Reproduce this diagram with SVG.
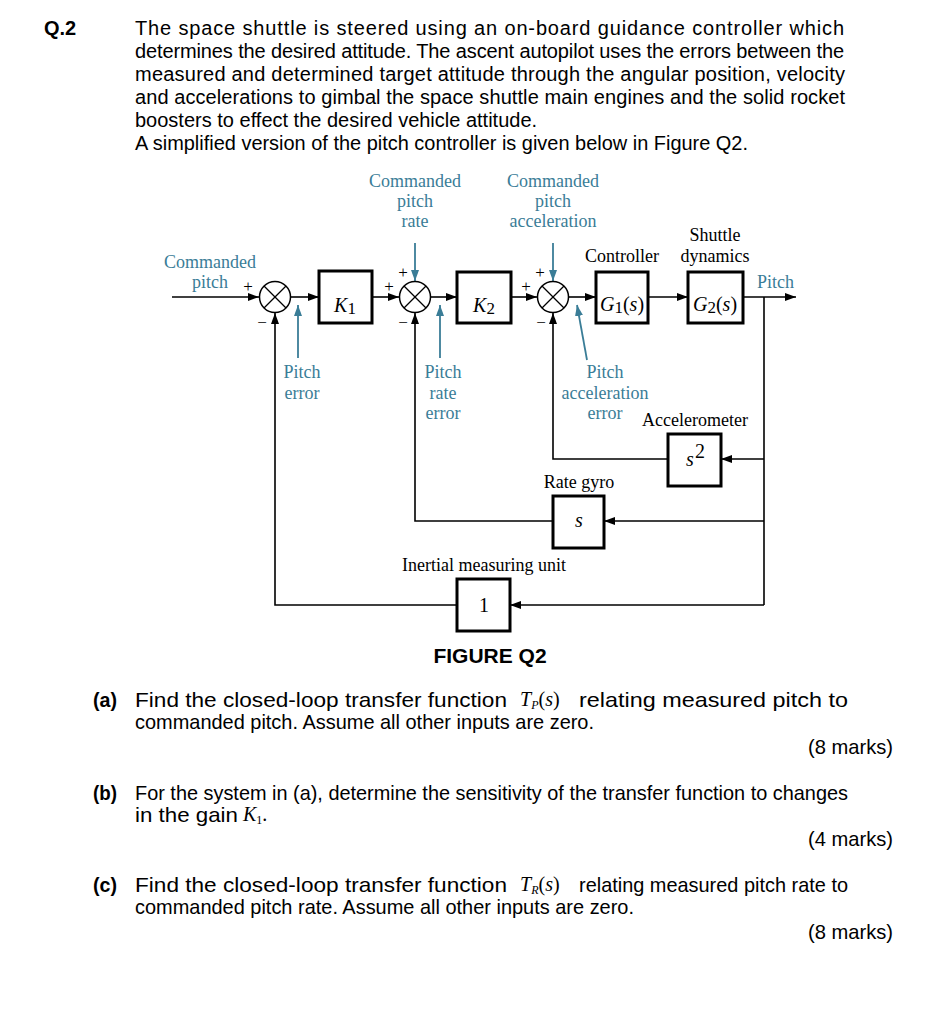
<svg xmlns="http://www.w3.org/2000/svg" width="937" height="1024" viewBox="0 0 937 1024">
<style>
.q{font-family:"Liberation Sans",Arial,sans-serif;font-size:20px;fill:#000}
.qb{font-family:"Liberation Sans",Arial,sans-serif;font-size:20px;font-weight:bold;fill:#000}
.p{font-family:"Liberation Sans",Arial,sans-serif;font-size:21px;fill:#000}
.pb{font-family:"Liberation Sans",Arial,sans-serif;font-size:21px;font-weight:bold;fill:#000}
.m{font-family:"Liberation Serif","Times New Roman",serif;font-size:20px;fill:#000}
.lb{font-family:"Liberation Serif","Times New Roman",serif;font-size:18px;fill:#000}
.lt{font-family:"Liberation Serif","Times New Roman",serif;font-size:18px;fill:#3a7d97}
.bx{font-family:"Liberation Serif","Times New Roman",serif;font-size:20px;fill:#000}
.sg{font-family:"Liberation Serif","Times New Roman",serif;font-size:17px;fill:#000}
.box{fill:#fff;stroke:#000;stroke-width:3}
.sum{fill:#fff;stroke:#000;stroke-width:1.5}
.x{stroke:#000;stroke-width:1.3}
.w{fill:none;stroke:#000;stroke-width:1.6}
.wt{fill:none;stroke:#3a7d97;stroke-width:1.8}
</style>
<defs>
<marker id="ab" markerUnits="userSpaceOnUse" markerWidth="11" markerHeight="8" refX="11" refY="4" orient="auto"><path d="M0,0 L11,4 L0,8 z" fill="#000"/></marker>
<marker id="at" markerUnits="userSpaceOnUse" markerWidth="11" markerHeight="8" refX="11" refY="4" orient="auto"><path d="M0,0 L11,4 L0,8 z" fill="#3a7d97"/></marker>
</defs>
<rect width="937" height="1024" fill="#fff"/>

<g id="question-text">
<text class="qb" x="44" y="35">Q.2</text>
<text class="q" x="135" y="35" textLength="709" lengthAdjust="spacing">The space shuttle is steered using an on-board guidance controller which</text>
<text class="q" x="135" y="58" textLength="709" lengthAdjust="spacing">determines the desired attitude. The ascent autopilot uses the errors between the</text>
<text class="q" x="135" y="81" textLength="710" lengthAdjust="spacing">measured and determined target attitude through the angular position, velocity</text>
<text class="q" x="135" y="104" textLength="710" lengthAdjust="spacing">and accelerations to gimbal the space shuttle main engines and the solid rocket</text>
<text class="q" x="135" y="127">boosters to effect the desired vehicle attitude.</text>
<text class="q" x="135" y="150" textLength="613" lengthAdjust="spacingAndGlyphs">A simplified version of the pitch controller is given below in Figure Q2.</text>
</g>

<g id="connectors">
<line class="w" x1="172" y1="297" x2="259" y2="297" marker-end="url(#ab)"/>
<line class="w" x1="291" y1="297" x2="319" y2="297" marker-end="url(#ab)"/>
<line class="w" x1="372" y1="297" x2="399" y2="297" marker-end="url(#ab)"/>
<line class="w" x1="431" y1="297" x2="457" y2="297" marker-end="url(#ab)"/>
<line class="w" x1="511" y1="297" x2="537" y2="297" marker-end="url(#ab)"/>
<line class="w" x1="569" y1="297" x2="596" y2="297" marker-end="url(#ab)"/>
<line class="w" x1="648" y1="297" x2="688" y2="297" marker-end="url(#ab)"/>
<line class="w" x1="743" y1="297" x2="796" y2="297" marker-end="url(#ab)"/>
<line class="w" x1="764" y1="297" x2="764" y2="605"/>
<line class="w" x1="764" y1="459" x2="721" y2="459" marker-end="url(#ab)"/>
<line class="w" x1="764" y1="521" x2="604" y2="521" marker-end="url(#ab)"/>
<line class="w" x1="764" y1="605" x2="510" y2="605" marker-end="url(#ab)"/>
<polyline class="w" points="668,459 553,459 553,313" marker-end="url(#ab)"/>
<polyline class="w" points="553,521 415,521 415,313" marker-end="url(#ab)"/>
<polyline class="w" points="457,605 275,605 275,313" marker-end="url(#ab)"/>
<line class="wt" x1="415" y1="243" x2="415" y2="281" marker-end="url(#at)"/>
<line class="wt" x1="553" y1="243" x2="553" y2="281" marker-end="url(#at)"/>
<line class="wt" x1="298" y1="358" x2="298" y2="305" marker-end="url(#at)"/>
<line class="wt" x1="440" y1="358" x2="440" y2="305" marker-end="url(#at)"/>
<line class="wt" x1="587" y1="360" x2="577" y2="305" marker-end="url(#at)"/>
</g>

<g id="sum1">
<circle class="sum" cx="275" cy="297" r="15.5"/>
<line class="x" x1="264" y1="286" x2="286" y2="308"/><line class="x" x1="286" y1="286" x2="264" y2="308"/>
<text class="sg" x="248" y="292" text-anchor="middle">+</text>
<text class="sg" x="262" y="328" text-anchor="middle">−</text>
</g>
<g id="sum2">
<circle class="sum" cx="415" cy="297" r="15.5"/>
<line class="x" x1="404" y1="286" x2="426" y2="308"/><line class="x" x1="426" y1="286" x2="404" y2="308"/>
<text class="sg" x="389" y="292" text-anchor="middle">+</text>
<text class="sg" x="403" y="278" text-anchor="middle">+</text>
<text class="sg" x="403" y="328" text-anchor="middle">−</text>
</g>
<g id="sum3">
<circle class="sum" cx="553" cy="297" r="15.5"/>
<line class="x" x1="542" y1="286" x2="564" y2="308"/><line class="x" x1="564" y1="286" x2="542" y2="308"/>
<text class="sg" x="526" y="292" text-anchor="middle">+</text>
<text class="sg" x="540" y="278" text-anchor="middle">+</text>
<text class="sg" x="541" y="328" text-anchor="middle">−</text>
</g>

<g id="K1">
<rect class="box" x="319" y="271" width="53" height="52"/>
<text class="bx" x="345" y="312" text-anchor="middle"><tspan font-style="italic">K</tspan><tspan font-size="17" dy="2">1</tspan></text>
</g>
<g id="K2">
<rect class="box" x="457" y="272" width="54" height="51"/>
<text class="bx" x="484" y="312" text-anchor="middle"><tspan font-style="italic">K</tspan><tspan font-size="17" dy="2">2</tspan></text>
</g>
<g id="G1">
<rect class="box" x="596" y="272" width="52" height="51"/>
<text class="bx" x="622" y="311" text-anchor="middle"><tspan font-style="italic">G</tspan><tspan font-size="17" dy="2">1</tspan><tspan dy="-2">(</tspan><tspan font-style="italic">s</tspan>)</text>
<text class="lb" x="622" y="262" text-anchor="middle">Controller</text>
</g>
<g id="G2">
<rect class="box" x="688" y="272" width="55" height="51"/>
<text class="bx" x="715" y="311" text-anchor="middle"><tspan font-style="italic">G</tspan><tspan font-size="17" dy="2">2</tspan><tspan dy="-2">(</tspan><tspan font-style="italic">s</tspan>)</text>
<text class="lb" x="715" y="241" text-anchor="middle">Shuttle</text>
<text class="lb" x="715" y="262" text-anchor="middle">dynamics</text>
</g>
<g id="accelerometer">
<rect class="box" x="668" y="434" width="53" height="52"/>
<text class="bx" x="690" y="466" text-anchor="middle" font-style="italic">s</text>
<text class="bx" x="700" y="458" text-anchor="middle" font-size="16">2</text>
<text class="lb" x="695" y="426" text-anchor="middle">Accelerometer</text>
</g>
<g id="rate-gyro">
<rect class="box" x="553" y="496" width="51" height="52"/>
<text class="bx" x="579" y="527" text-anchor="middle" font-style="italic">s</text>
<text class="lb" x="579" y="488" text-anchor="middle">Rate gyro</text>
</g>
<g id="imu">
<rect class="box" x="457" y="579" width="53" height="52"/>
<text class="bx" x="484" y="612" text-anchor="middle" font-size="18">1</text>
<text class="lb" x="484" y="571" text-anchor="middle">Inertial measuring unit</text>
</g>

<g id="signal-labels">
<text class="lt" x="210" y="268" text-anchor="middle">Commanded</text>
<text class="lt" x="210" y="288" text-anchor="middle">pitch</text>
<text class="lt" x="415" y="187" text-anchor="middle">Commanded</text>
<text class="lt" x="415" y="207" text-anchor="middle">pitch</text>
<text class="lt" x="415" y="227" text-anchor="middle">rate</text>
<text class="lt" x="553" y="187" text-anchor="middle">Commanded</text>
<text class="lt" x="553" y="207" text-anchor="middle">pitch</text>
<text class="lt" x="553" y="227" text-anchor="middle">acceleration</text>
<text class="lt" x="757" y="288">Pitch</text>
<text class="lt" x="302" y="378" text-anchor="middle">Pitch</text>
<text class="lt" x="302" y="399" text-anchor="middle">error</text>
<text class="lt" x="443" y="378" text-anchor="middle">Pitch</text>
<text class="lt" x="443" y="399" text-anchor="middle">rate</text>
<text class="lt" x="443" y="419" text-anchor="middle">error</text>
<text class="lt" x="605" y="378" text-anchor="middle">Pitch</text>
<text class="lt" x="605" y="399" text-anchor="middle">acceleration</text>
<text class="lt" x="605" y="419" text-anchor="middle">error</text>
</g>

<g id="caption">
<text class="pb" x="490" y="663" text-anchor="middle" font-size="19">FIGURE Q2</text>
</g>

<g id="parts">
<text class="pb" x="93" y="707" textLength="24" lengthAdjust="spacingAndGlyphs">(a)</text>
<text class="p" x="135" y="707" textLength="372" lengthAdjust="spacingAndGlyphs">Find the closed-loop transfer function</text>
<text class="m" x="520" y="706"><tspan font-style="italic">T</tspan><tspan font-size="12" font-style="italic" dy="3">P</tspan><tspan dy="-3">(</tspan><tspan font-style="italic">s</tspan>)</text>
<text class="p" x="579" y="707" textLength="269" lengthAdjust="spacingAndGlyphs">relating measured pitch to</text>
<text class="p" x="135" y="729" textLength="459" lengthAdjust="spacingAndGlyphs">commanded pitch. Assume all other inputs are zero.</text>
<text class="p" x="893" y="754" text-anchor="end" textLength="85" lengthAdjust="spacingAndGlyphs">(8 marks)</text>

<text class="pb" x="93" y="800" textLength="24" lengthAdjust="spacingAndGlyphs">(b)</text>
<text class="p" x="135" y="800" textLength="713" lengthAdjust="spacingAndGlyphs">For the system in (a), determine the sensitivity of the transfer function to changes</text>
<text class="p" x="135" y="822" textLength="103" lengthAdjust="spacingAndGlyphs">in the gain</text>
<text class="m" x="243" y="821"><tspan font-style="italic">K</tspan><tspan font-size="12" dy="3">1</tspan><tspan dy="-3">.</tspan></text>
<text class="p" x="893" y="846" text-anchor="end" textLength="85" lengthAdjust="spacingAndGlyphs">(4 marks)</text>

<text class="pb" x="93" y="892" textLength="24" lengthAdjust="spacingAndGlyphs">(c)</text>
<text class="p" x="135" y="892" textLength="372" lengthAdjust="spacingAndGlyphs">Find the closed-loop transfer function</text>
<text class="m" x="520" y="891"><tspan font-style="italic">T</tspan><tspan font-size="12" font-style="italic" dy="3">R</tspan><tspan dy="-3">(</tspan><tspan font-style="italic">s</tspan>)</text>
<text class="p" x="579" y="892" textLength="269" lengthAdjust="spacingAndGlyphs">relating measured pitch rate to</text>
<text class="p" x="135" y="914" textLength="499" lengthAdjust="spacingAndGlyphs">commanded pitch rate. Assume all other inputs are zero.</text>
<text class="p" x="893" y="939" text-anchor="end" textLength="85" lengthAdjust="spacingAndGlyphs">(8 marks)</text>
</g>
</svg>
